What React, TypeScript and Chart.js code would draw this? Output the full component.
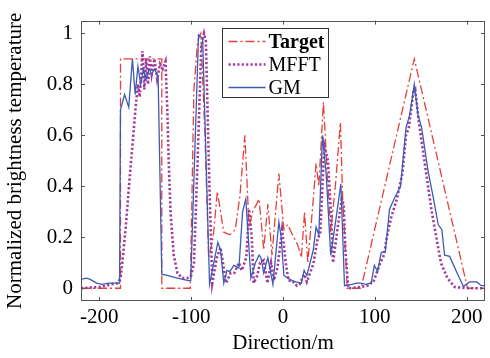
import React, { useEffect, useRef } from "react";
import { Chart, registerables } from "chart.js";

Chart.register(...registerables);

// ---- Data ----
const seriesNames = ["Target", "MFFT", "GM"];

const targetX = [-220, -177, -177, -132, -132, -101, -97, -93, -89.5, -85, -81, -76, -71.5, -64.5, -58, -52, -47, -41.5, -37, -33, -26, -21, -16.5, -12, -4.5, 1, 5, 9, 16, 20, 23.5, 27, 33, 36, 39, 44, 46, 48, 52, 57, 62.5, 65, 70, 85, 143, 201, 220];
const targetY = [0, 0, 0.9, 0.9, 0, 0, 0.78, 0.97, 1.0, 0.6, 0.12, 0.2, 0.38, 0.22, 0.21, 0.23, 0.36, 0.6, 0.24, 0.3, 0.35, 0.15, 0.33, 0.13, 0.45, 0.23, 0.25, 0.22, 0.17, 0.12, 0.3, 0.1, 0.35, 0.49, 0.4, 0.73, 0.6, 0.45, 0.22, 0.4, 0.65, 0.35, 0, 0, 0.9, 0, 0];

const mfftX = [-220, -200, -188, -180, -177, -175, -171.5, -168, -164, -160.5, -158, -156, -153, -151, -149, -147, -145, -143, -140, -137, -134, -131, -128, -126, -124.5, -122.5, -119, -115, -110, -104, -100, -97, -93, -89, -86, -84, -80.5, -77, -72, -68, -62, -57, -53, -48, -45, -40, -37, -34, -32, -28, -25, -21, -17, -13, -10, -6, -1, 3, 6, 10, 15, 18, 23, 26, 33, 38, 40.5, 45, 49, 52.5, 54.5, 60, 64, 66, 68, 71, 85, 92, 96, 98, 102, 106, 110, 113, 118, 124, 130, 134, 137, 142, 144, 148, 152, 158, 162, 167, 172, 179, 187, 200, 220];
const mfftY = [0, 0.005, 0.015, 0.02, 0.04, 0.1, 0.23, 0.39, 0.56, 0.71, 0.8, 0.75, 0.93, 0.78, 0.9, 0.8, 0.91, 0.84, 0.9, 0.82, 0.88, 0.86, 0.89, 0.7, 0.5, 0.3, 0.13, 0.06, 0.04, 0.04, 0.05, 0.1, 0.5, 0.95, 1.0, 0.97, 0.45, 0.02, 0.12, 0.16, 0.02, 0.06, 0.06, 0.1, 0.07, 0.12, 0.31, 0.2, 0.02, 0.05, 0.1, 0.11, 0.02, 0.1, 0.03, 0.08, 0.23, 0.1, 0.03, 0.03, 0.01, 0.015, 0.055, 0.025, 0.095, 0.2, 0.21, 0.56, 0.5, 0.28, 0.1, 0.25, 0.35, 0.33, 0.15, 0, 0.005, 0.01, 0.02, 0.02, 0.06, 0.1, 0.13, 0.2, 0.28, 0.35, 0.45, 0.6, 0.63, 0.77, 0.78, 0.65, 0.55, 0.4, 0.3, 0.2, 0.1, 0.04, 0.005, 0, 0];

const gmX = [-220, -214, -210, -203, -197, -190, -178, -177, -172.5, -168, -164, -161, -158, -155, -152, -149, -146, -143, -140, -136, -132, -125, -115, -103, -100.5, -92, -87.5, -80, -71, -68, -64.5, -61, -58, -53.5, -48, -44, -40.5, -35, -30, -26, -24, -21, -16.5, -11, -4.5, -2, 1, 5, 10, 14, 20, 23, 26, 33, 36, 39, 43, 47, 52, 58, 63, 67, 75, 80, 85, 90, 96, 99.5, 103, 107, 111.5, 116, 121, 128, 134, 138, 143, 147, 151, 158, 164, 169, 173, 176, 181.5, 189, 196.5, 203, 211, 216, 220];
const gmY = [0.035, 0.04, 0.035, 0.02, 0.015, 0.02, 0.02, 0.7, 0.76, 0.71, 0.9, 0.76, 0.87, 0.8, 0.86, 0.82, 0.86, 0.84, 0.86, 0.83, 0.055, 0.05, 0.04, 0.03, 0.03, 0.995, 0.98, 0.015, 0.18, 0.15, 0.02, 0.07, 0.065, 0.09, 0.08, 0.3, 0.35, 0.04, 0.1, 0.13, 0.12, 0.06, 0.12, 0.015, 0.26, 0.2, 0.05, 0.04, 0.03, 0.025, 0.02, 0.07, 0.05, 0.15, 0.24, 0.21, 0.6, 0.45, 0.13, 0.28, 0.41, 0.01, 0.015, 0.02, 0.02, 0.015, 0.02, 0.09, 0.065, 0.14, 0.145, 0.31, 0.35, 0.4, 0.63, 0.68, 0.8, 0.68, 0.63, 0.46, 0.35, 0.25, 0.23, 0.13, 0.125, 0.065, 0.007, 0.025, 0.025, 0.01, 0.01];

const xTicks = [-200, -100, 0, 100, 200];
const yTicks = [0, 0.2, 0.4, 0.6, 0.8, 1];
const xTitle = "Direction/m";
const yTitle = "Normalized brightness temperature";

const FONT = '"Liberation Serif", "Times New Roman", serif';

const toPoints = (xs: number[], ys: number[]) => xs.map((x, i) => ({ x, y: ys[i] }));

const framePlugin = {
  id: "frameAndLegend",
  afterDraw(chart: any) {
    const { ctx, chartArea: a, scales } = chart;
    ctx.save();
    // box
    ctx.strokeStyle = "#555";
    ctx.lineWidth = 1;
    ctx.setLineDash([]);
    ctx.strokeRect(Math.round(a.left) + 0.5, Math.round(a.top) + 0.5, Math.round(a.right - a.left) - 1, Math.round(a.bottom - a.top) - 1);
    // inward ticks
    const L = 4;
    ctx.beginPath();
    scales.x.ticks.forEach((t: any) => {
      const px = Math.round(scales.x.getPixelForValue(t.value)) + 0.5;
      ctx.moveTo(px, a.bottom);
      ctx.lineTo(px, a.bottom - L);
      ctx.moveTo(px, a.top);
      ctx.lineTo(px, a.top + L);
    });
    scales.y.ticks.forEach((t: any) => {
      const py = Math.round(scales.y.getPixelForValue(t.value)) + 0.5;
      ctx.moveTo(a.left, py);
      ctx.lineTo(a.left + L, py);
      ctx.moveTo(a.right, py);
      ctx.lineTo(a.right - L, py);
    });
    ctx.stroke();

    // legend
    const bx = Math.round(a.left + 141) + 0.5;
    const by = Math.round(a.top + 7) + 0.5;
    const bw = 106;
    const bh = 69;
    ctx.fillStyle = "#fff";
    ctx.fillRect(bx, by, bw, bh);
    ctx.strokeStyle = "#333";
    ctx.lineWidth = 1;
    ctx.strokeRect(bx, by, bw, bh);
    const rows = [13, 36, 59];
    chart.data.datasets.forEach((ds: any, i: number) => {
      const y = by + rows[i];
      ctx.save();
      ctx.strokeStyle = ds.borderColor;
      ctx.lineWidth = ds.borderWidth;
      ctx.setLineDash(ds.borderDash || []);
      ctx.beginPath();
      ctx.moveTo(bx + 6, y);
      ctx.lineTo(bx + 43, y);
      ctx.stroke();
      ctx.restore();
      ctx.fillStyle = "#000";
      ctx.textBaseline = "middle";
      ctx.textAlign = "left";
      ctx.font = (i === 0 ? "bold " : "") + "20px " + FONT;
      ctx.fillText(ds.label, bx + 46, y + 1);
    });
    ctx.restore();
  },
};

export default function App() {
  const ref = useRef<HTMLCanvasElement>(null);

  useEffect(() => {
    if (!ref.current) return;
    const chart = new Chart(ref.current, {
      type: "line",
      data: {
        datasets: [
          {
            label: seriesNames[0],
            data: toPoints(targetX, targetY),
            borderColor: "#e5403a",
            borderWidth: 1.3,
            borderDash: [9, 3, 2, 3],
            pointRadius: 0,
            tension: 0,
            order: 3,
          },
          {
            label: seriesNames[1],
            data: toPoints(mfftX, mfftY),
            borderColor: "#a23a9e",
            borderWidth: 2.6,
            borderDash: [2.2, 2.2],
            pointRadius: 0,
            tension: 0,
            order: 2,
          },
          {
            label: seriesNames[2],
            data: toPoints(gmX, gmY),
            borderColor: "#3c5cb4",
            borderWidth: 1.3,
            pointRadius: 0,
            tension: 0,
            order: 1,
          },
        ],
      },
      options: {
        responsive: true,
        maintainAspectRatio: false,
        animation: false,
        layout: { padding: { top: 8, right: 5, left: 0, bottom: 0 } },
        plugins: { legend: { display: false }, tooltip: { enabled: false } },
        scales: {
          x: {
            type: "linear",
            min: -220,
            max: 220,
            afterBuildTicks: (s: any) => {
              s.ticks = xTicks.map((v) => ({ value: v }));
            },
            afterFit: (s: any) => {
              s.height = 57;
            },
            grid: { display: false, drawTicks: false },
            border: { display: false },
            ticks: {
              font: { family: FONT, size: 21 },
              color: "#000",
              padding: 4,
              maxRotation: 0,
              callback: (v: any) => String(v),
            },
            title: {
              display: true,
              text: xTitle,
              font: { family: FONT, size: 21 },
              color: "#000",
              padding: { top: 0, bottom: 2 },
            },
          },
          y: {
            type: "linear",
            min: -0.05,
            max: 1.05,
            afterBuildTicks: (s: any) => {
              s.ticks = yTicks.map((v) => ({ value: v }));
            },
            afterFit: (s: any) => {
              s.width = 81;
            },
            grid: { display: false, drawTicks: false },
            border: { display: false },
            ticks: {
              font: { family: FONT, size: 21 },
              color: "#000",
              padding: 8,
              callback: (v: any) => String(Math.round(v * 10) / 10),
            },
            title: {
              display: true,
              text: yTitle,
              font: { family: FONT, size: 21 },
              color: "#000",
              padding: { top: 3, bottom: 0 },
            },
          },
        },
      },
      plugins: [framePlugin],
    });
    return () => chart.destroy();
  }, []);

  return (
    <div style={{ position: "absolute", left: 0, top: 0, width: 490, height: 358, background: "#fff" }}>
      <canvas ref={ref} />
    </div>
  );
}
